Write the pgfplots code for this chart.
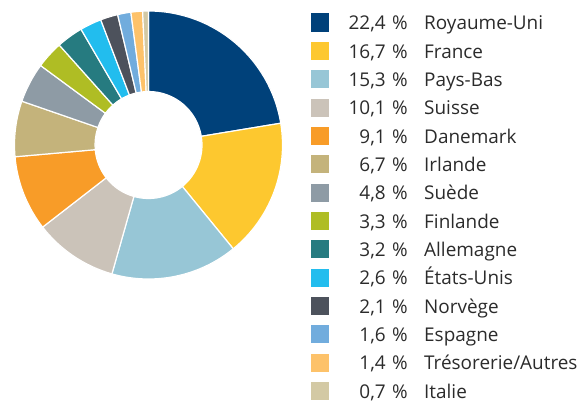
\documentclass[border=0pt]{standalone}
\usepackage{pgfplots}
\pgfplotsset{compat=1.18}
\usepackage{pgfplotstable}
\usepackage{fontspec}
\setmainfont{Open Sans}
\definecolor{c1}{HTML}{00417A}
\definecolor{c2}{HTML}{FDC82F}
\definecolor{c3}{HTML}{97C6D6}
\definecolor{c4}{HTML}{CBC3B9}
\definecolor{c5}{HTML}{F89C28}
\definecolor{c6}{HTML}{C4B37B}
\definecolor{c7}{HTML}{8E9BA5}
\definecolor{c8}{HTML}{AFBD24}
\definecolor{c9}{HTML}{267B80}
\definecolor{c10}{HTML}{22BDEE}
\definecolor{c11}{HTML}{4D525C}
\definecolor{c12}{HTML}{71ACDD}
\definecolor{c13}{HTML}{FDC26A}
\definecolor{c14}{HTML}{D3C9A4}
\definecolor{txt}{HTML}{2B2B2B}
\pgfplotstableread[col sep=semicolon]{
val;pct;col;name
22.4;22,4;c1;Royaume-Uni
16.7;16,7;c2;France
15.3;15,3;c3;Pays-Bas
10.1;10,1;c4;Suisse
9.1;9,1;c5;Danemark
6.7;6,7;c6;Irlande
4.8;4,8;c7;Suède
3.3;3,3;c8;Finlande
3.2;3,2;c9;Allemagne
2.6;2,6;c10;États-Unis
2.1;2,1;c11;Norvège
1.6;1,6;c12;Espagne
1.4;1,4;c13;Trésorerie/Autres
0.7;0,7;c14;Italie
}\datatable
\begin{document}
\begin{tikzpicture}[x=1bp,y=1bp]
\path[use as bounding box] (0,0) rectangle (585,403);
\begin{axis}[x=1bp, y=1bp, anchor=origin, at={(148.5,258)}, hide axis,
  xmin=-148.5, xmax=436.5, ymin=-145, ymax=258, clip=false, scale only axis]
\def\cum{0}
\pgfplotsforeachungrouped \i in {0,...,13}{%
  \pgfplotstablegetelem{\i}{val}\of\datatable \let\v\pgfplotsretval
  \pgfplotstablegetelem{\i}{col}\of\datatable \let\c\pgfplotsretval
  \pgfmathsetmacro\s{90-3.6*\cum}%
  \pgfmathsetmacro\cum{\cum+\v}%
  \pgfmathsetmacro\e{90-3.6*\cum}%
  \edef\temp{\noexpand\fill[\c, draw=white, line width=1.2bp]
    ([shift={(axis cs:0,0)}]\s:134bp) arc[start angle=\s, end angle=\e, radius=134bp]
    -- ([shift={(axis cs:0,0)}]\e:53.5bp) arc[start angle=\e, end angle=\s, radius=53.5bp] -- cycle;}%
  \temp
}
\end{axis}
\pgfplotsforeachungrouped \i in {0,...,13}{%
  \pgfplotstablegetelem{\i}{pct}\of\datatable \let\p\pgfplotsretval
  \pgfplotstablegetelem{\i}{col}\of\datatable \let\c\pgfplotsretval
  \pgfplotstablegetelem{\i}{name}\of\datatable \let\n\pgfplotsretval
  \pgfmathsetmacro\yc{403-22.5-28.35*\i}%
  \pgfmathsetmacro\yb{\yc-7.2}%
  \fill[\c] (311,\yc-9) rectangle (329,\yc+9);
  \node[anchor=base east, inner sep=0pt, text=txt, font=\fontsize{19}{22}\selectfont] at (408,\yb) {\p\hspace{6.5bp}\%};
  \node[anchor=base west, inner sep=0pt, text=txt, font=\fontsize{19}{22}\selectfont] at (424,\yb) {\n};
}
\end{tikzpicture}
\end{document}
